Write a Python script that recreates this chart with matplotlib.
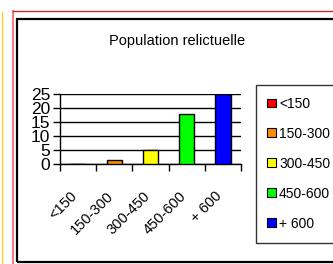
import matplotlib
matplotlib.use("Agg")
import matplotlib.pyplot as plt
from matplotlib.patches import Rectangle
from matplotlib.lines import Line2D
from matplotlib.transforms import ScaledTranslation
import numpy as np

plt.rcParams['font.family'] = ['Liberation Sans', 'DejaVu Sans']

# Data
categories = ['<150', '150-300', '300-450', '450-600', '+ 600']
values = [0, 1.5, 5, 18, 25]
colors = ['#ff0000', '#ff8c00', '#ffff00', '#00ff00', '#0000ff']
yticks = [0, 5, 10, 15, 20, 25]

fig = plt.figure(figsize=(3.33, 2.64), dpi=100)
W, H = 333, 264

# decorative page borders
fig.add_artist(Line2D([2 / W, 2 / W], [0, 1 - 12 / H], color='#ffcc33', lw=1))
fig.add_artist(Line2D([13 / W, 13 / W], [0, 1 - 11 / H], color='#f08080', lw=1.5))
fig.add_artist(Line2D([13 / W, 1], [1 - 11 / H, 1 - 11 / H], color='#e02020', lw=1))
fig.add_artist(Rectangle((16.5 / W, 2 / H), 1.0, 1 - 21 / H, transform=fig.transFigure,
                         fill=False, edgecolor='black', lw=1.6))

fig.text(177 / W, 1 - 41 / H, 'Population relictuelle', ha='center', va='center', fontsize=10.5)

ax = fig.add_axes([60 / W, 1 - 164 / H, 181 / W, 70 / H])
x = np.arange(len(categories))
ax.bar(x, values, width=0.42, color=colors, edgecolor='black', linewidth=1, zorder=3)

ax.set_xlim(-0.5, len(categories) - 0.5)
ax.set_ylim(0, 25)
ax.set_yticks(yticks)
ax.set_yticklabels([str(v) for v in yticks], fontsize=12.5)
ax.tick_params(axis='y', length=5, width=1, direction='out', pad=2)
ax.yaxis.grid(True, color='black', linewidth=1)
ax.set_axisbelow(True)

# ticks at category boundaries, labels at centers
ax.set_xticks(np.arange(len(categories) + 1) - 0.5)
ax.set_xticklabels([])
ax.tick_params(axis='x', which='major', length=5, width=1, direction='out')
ax.set_xticks(x, minor=True)
ax.set_xticklabels(categories, minor=True, rotation=45, ha='right', va='top',
                   rotation_mode='anchor', fontsize=10.5)
ax.tick_params(axis='x', which='minor', length=0, pad=18)
shift = ScaledTranslation(-8 / 100, 0, fig.dpi_scale_trans)
for lbl in ax.get_xticklabels(minor=True):
    lbl.set_transform(lbl.get_transform() + shift)

for side in ['top', 'right']:
    ax.spines[side].set_visible(False)
ax.spines['left'].set_linewidth(1)
ax.spines['bottom'].set_linewidth(1)

handles = [Rectangle((0, 0), 1, 1, facecolor=c, edgecolor='black', lw=0.8) for c in colors]
leg = fig.legend(handles, categories, loc='upper left', bbox_to_anchor=(255.5 / W, 1 - 85 / H),
                 fontsize=10, frameon=True, fancybox=False, edgecolor='black',
                 handlelength=0.6, handleheight=0.6, handletextpad=0.25,
                 labelspacing=1.15, borderpad=0.85, borderaxespad=0)
leg.get_frame().set_linewidth(1)

fig.savefig('out.png', dpi=100)
